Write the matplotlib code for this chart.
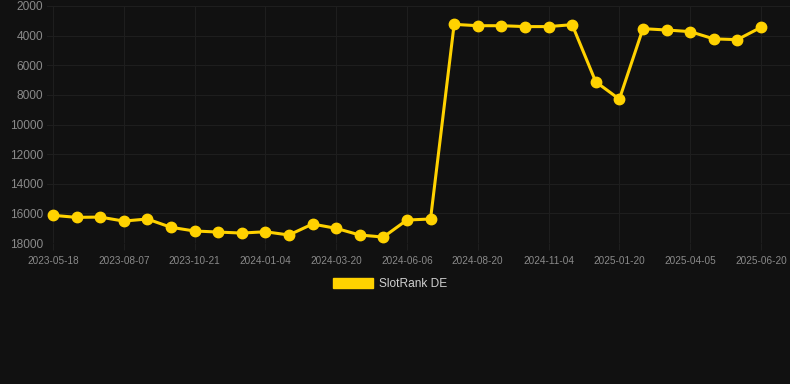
import matplotlib.pyplot as plt
from matplotlib.patches import Patch

# rank values (lower is better -> inverted axis)
ranks = [16130, 16270, 16250, 16520, 16380, 16940, 17190, 17260, 17330, 17240,
         17460, 16720, 17010, 17460, 17600, 16450, 16380, 3240, 3330, 3330,
         3390, 3390, 3260, 7120, 8290, 3530, 3620, 3730, 4220, 4270, 3440]
tick_labels = ["2023-05-18", "2023-08-07", "2023-10-21", "2024-01-04",
               "2024-03-20", "2024-06-06", "2024-08-20", "2024-11-04",
               "2025-01-20", "2025-04-05", "2025-06-20"]
y_ticks = [2000, 4000, 6000, 8000, 10000, 12000, 14000, 16000, 18000]

bg = '#111111'
grid_c = '#1e1e1e'
gold = '#FFD200'

plt.rcParams['font.family'] = ['Liberation Sans', 'DejaVu Sans']

fig = plt.figure(figsize=(7.9, 3.84), dpi=100, facecolor=bg)
ax = fig.add_axes([47 / 790, (384 - 243) / 384, (790 - 47) / 790, (243 - 6) / 384])
ax.set_facecolor(bg)

x = list(range(len(ranks)))
ax.plot(x, ranks, color=gold, linewidth=2.2, marker='o', markersize=7.5,
        markerfacecolor=gold, markeredgecolor=gold, zorder=3)

ax.set_ylim(18000, 2000)
ax.set_xlim(-0.25, 31.23)
ax.set_yticks(y_ticks)
ax.set_yticklabels([str(v) for v in y_ticks])
ax.set_xticks(x[::3])
ax.set_xticklabels(tick_labels)

ax.grid(True, color=grid_c, linewidth=0.8)
for s in ax.spines.values():
    s.set_visible(False)
ax.tick_params(axis='y', length=0, pad=3, labelsize=8.6, labelcolor='#8a8a8a')
ax.tick_params(axis='x', length=5, width=0.8, color=grid_c, pad=4,
               labelsize=7.2, labelcolor='#8a8a8a')

handle = Patch(facecolor=gold, edgecolor=gold)
leg = fig.legend([handle], ['SlotRank DE'], loc='center',
                 bbox_to_anchor=(390 / 790, 1 - 284 / 384), frameon=False,
                 fontsize=8.6, handlelength=3.3, handleheight=0.9,
                 handletextpad=0.5, labelcolor='#d0d0d0')

fig.savefig('out.png', dpi=100, facecolor=bg)
